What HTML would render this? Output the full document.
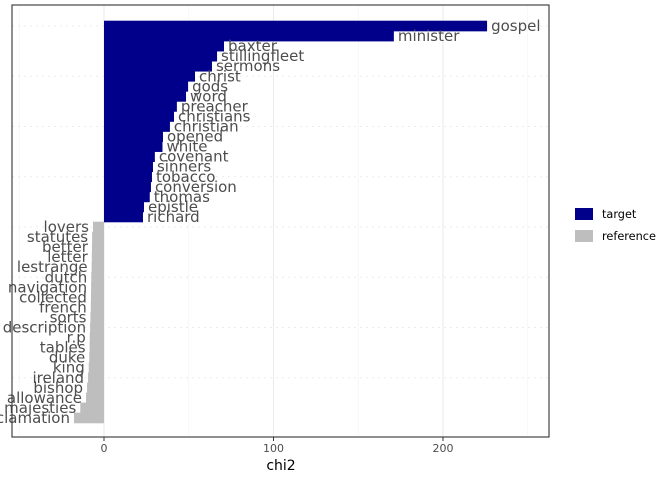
<!DOCTYPE html>
<html><head><meta charset="utf-8"><style>body{margin:0;background:#fff}svg{display:block;font-family:"DejaVu Sans","Liberation Sans",sans-serif}</style></head>
<body>
<svg id="c" width="672" height="480"></svg>
<script>
const terms=["gospel","minister","baxter","stillingfleet","sermons","christ","gods","word","preacher","christians","christian","opened","white","covenant","sinners","tobacco","conversion","thomas","epistle","richard","lovers","statutes","better","letter","lestrange","dutch","navigation","collected","french","sorts","description","r.p","tables","duke","king","ireland","bishop","allowance","majesties","proclamation"];
const chi2=[226,171,70.8,66.7,63.7,53.7,49.6,48.4,43,41.3,38.9,34.8,34.5,30,28.9,28.3,27.7,27,23.6,23,-6.5,-7,-7.1,-7.2,-7.3,-7.5,-7.6,-7.7,-7.8,-8,-8.2,-8.4,-8.5,-8.7,-9,-9.4,-10,-10.6,-14,-17.7];
const ticks=[0,100,200];
const ns="http://www.w3.org/2000/svg",svg=document.getElementById('c');
function mk(t,a,p){const e=document.createElementNS(ns,t);for(const k in a)e.setAttribute(k,a[k]);(p||svg).appendChild(e);return e;}
const X=v=>104+v*1.695, Y=i=>21+i*10.05, H=10.05;
const PL=12,PR=549,PT=5,PB=437;
const g=mk('g',{});
[-50,50,150,250].forEach(v=>mk('line',{x1:X(v),x2:X(v),y1:PT,y2:PB,stroke:'#f2f2f2','stroke-width':0.6},g));
ticks.forEach(v=>mk('line',{x1:X(v),x2:X(v),y1:PT,y2:PB,stroke:'#ebebeb','stroke-width':1.1},g));
for(let i=0;i<40;i+=5){mk('line',{x1:PL,x2:PR,y1:Y(i)+H/2,y2:Y(i)+H/2,stroke:'#ebebeb','stroke-width':1,'stroke-dasharray':'2,4'},g);}
terms.forEach((t,i)=>{const v=chi2[i];const x0=Math.min(X(0),X(v)),w=Math.abs(X(v)-X(0));
const r=mk('rect',{x:x0,y:Y(i)-0.3,width:w,height:H+0.6,fill:v>0?'#00008b':'#bebebe'});
});
terms.forEach((t,i)=>{const v=chi2[i];
const tx=mk('text',{x:v>0?X(v)+4:X(v)-4,y:Y(i)+H/2+5,'font-size':15,fill:'#4d4d4d','text-anchor':v>0?'start':'end'});tx.textContent=t;
});
const f=mk('rect',{x:PL,y:PT,width:PR-PL,height:PB-PT,fill:'none',stroke:'#333','stroke-width':1.1});

ticks.forEach(v=>{mk('line',{x1:X(v),x2:X(v),y1:PB,y2:PB+4,stroke:'#333'});
const t=mk('text',{x:X(v),y:PB+15,'font-size':11,fill:'#4d4d4d','text-anchor':'middle'});t.textContent=v;
});
const xt=mk('text',{x:281,y:470,'font-size':14,fill:'#000','text-anchor':'middle'});xt.textContent='chi2';

[['target','#00008b',208],['reference','#bebebe',230]].forEach(([n,c,y])=>{
const r=mk('rect',{x:575,y:y,width:18,height:12,fill:c});
const t=mk('text',{x:602,y:y+10,'font-size':11.3,fill:'#000'});t.textContent=n;});
</script>
</body></html>
